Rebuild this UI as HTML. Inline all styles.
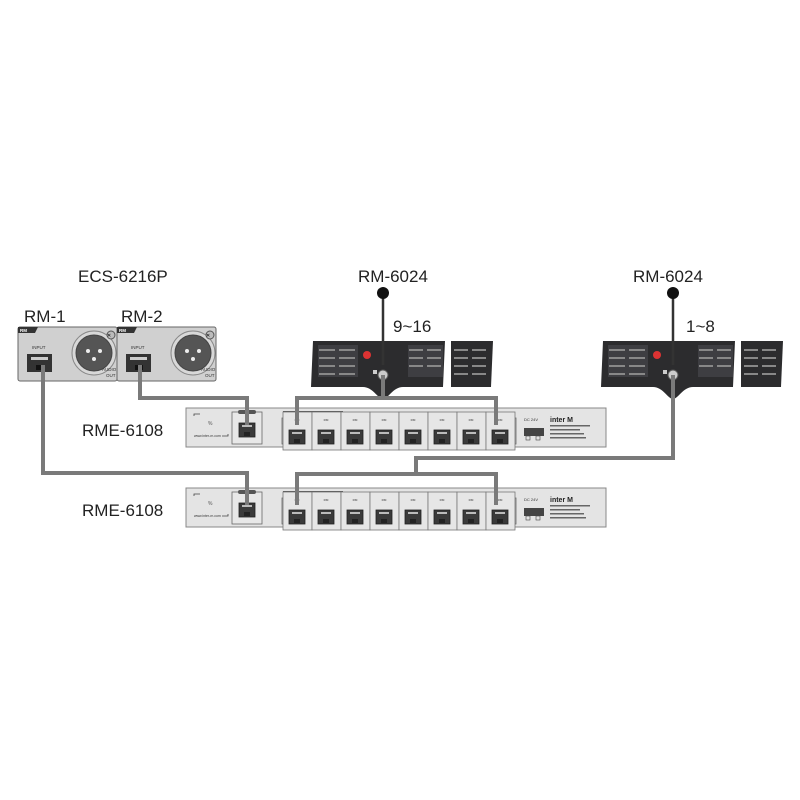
<!DOCTYPE html>
<html><head><meta charset="utf-8"><style>html,body{margin:0;padding:0;background:#fff}svg{display:block}</style></head>
<body>
<svg width="800" height="800" viewBox="0 0 800 800" xmlns="http://www.w3.org/2000/svg" font-family="Liberation Sans, sans-serif">
<defs>
<g id="jack"><rect x="-8" y="-7" width="16" height="14" fill="#3a3a3a" stroke="#222" stroke-width="0.8"/><rect x="-5" y="-5" width="10" height="2" fill="#bbb"/><rect x="-3" y="2" width="6" height="4" fill="#222"/></g>
<g id="port"><rect x="-14" y="-20" width="29" height="38" fill="#e6e6e6" stroke="#777" stroke-width="0.8"/><text x="0" y="-11" font-size="3" text-anchor="middle" fill="#333">RM</text><use href="#jack" y="5"/></g>
<g id="rme">
<rect x="0" y="0" width="420" height="39" fill="#e4e4e4" stroke="#888" stroke-width="1"/>
<path d="M8 8v-2h6M36 28h6v-2" stroke="#444" fill="none" stroke-width="0.8"/>
<text x="22" y="17" font-size="5" fill="#555">%</text>
<text x="8" y="29" font-size="3.5" fill="#333">www.inter-m.com</text>
<rect x="46" y="4" width="30" height="32" fill="#e8e8e8" stroke="#666" stroke-width="0.8"/>
<rect x="52" y="2" width="18" height="4" rx="2" fill="#555"/>
<use href="#jack" x="61" y="22"/>
<rect x="96" y="10" width="234" height="26" fill="#ececec" stroke="#666" stroke-width="0.8"/>
<rect x="97" y="3" width="60" height="3" fill="#555"/>
<rect x="204" y="5" width="16" height="4" rx="2" fill="#555"/>
<use href="#port" x="111" y="24"/><use href="#port" x="140" y="24"/><use href="#port" x="169" y="24"/><use href="#port" x="198" y="24"/><use href="#port" x="227" y="24"/><use href="#port" x="256" y="24"/><use href="#port" x="285" y="24"/><use href="#port" x="314" y="24"/>
<text x="338" y="13" font-size="4" fill="#333">DC 24V</text>
<rect x="338" y="20" width="20" height="8" fill="#444"/><rect x="340" y="28" width="4" height="4" fill="none" stroke="#444" stroke-width="0.6"/><rect x="350" y="28" width="4" height="4" fill="none" stroke="#444" stroke-width="0.6"/>
<text x="364" y="14" font-size="7" font-weight="bold" fill="#222">inter M</text>
<rect x="364" y="17" width="40" height="1.5" fill="#666"/><rect x="364" y="21" width="30" height="1.5" fill="#666"/><rect x="364" y="25" width="34" height="1.5" fill="#666"/><rect x="364" y="29" width="36" height="1.5" fill="#666"/>
</g>
<g id="rmp">
<rect x="0" y="0" width="99" height="54" fill="#d0d0d0" stroke="#666" stroke-width="1" rx="2"/>
<path d="M0 0h20l-3 6h-17z" fill="#333"/><text x="2" y="5" font-size="4.5" fill="#fff" font-weight="bold">RM</text>
<text x="14" y="22" font-size="4.5" fill="#333">INPUT</text>
<rect x="9" y="27" width="25" height="18" fill="#333"/><rect x="13" y="30" width="17" height="3" fill="#ccc"/><rect x="18" y="38" width="8" height="5" fill="#111"/>
<circle cx="76" cy="26" r="22" fill="#d8d8d8" stroke="#888"/><circle cx="76" cy="26" r="18" fill="#555" stroke="#444"/>
<circle cx="70" cy="24" r="2" fill="#eee"/><circle cx="82" cy="24" r="2" fill="#eee"/><circle cx="76" cy="32" r="2" fill="#eee"/>
<circle cx="93" cy="8" r="4" fill="#bbb" stroke="#555"/><text x="89" y="10" font-size="5">✕</text>
<text x="84" y="44" font-size="4.5" fill="#333">AUDIO</text><text x="88" y="50" font-size="4.5" fill="#333">OUT</text>
</g>
<g id="console">
<path d="M-70 -24h132l-2 46h-40c-10 0-15 12-20 12c-5 0-10-12-20-12h-52z" fill="#2c2c2e"/>
<path d="M-65 -20h40v32h-40zM25 -20h35v32h-35z" fill="#3e3e42"/>
<g fill="#888"><rect x="-64" y="-16" width="16" height="2"/><rect x="-44" y="-16" width="16" height="2"/><rect x="-64" y="-8" width="16" height="2"/><rect x="-44" y="-8" width="16" height="2"/><rect x="-64" y="0" width="16" height="2"/><rect x="-44" y="0" width="16" height="2"/><rect x="-64" y="8" width="16" height="2"/><rect x="-44" y="8" width="16" height="2"/>
<rect x="26" y="-16" width="14" height="2"/><rect x="44" y="-16" width="14" height="2"/><rect x="26" y="-8" width="14" height="2"/><rect x="44" y="-8" width="14" height="2"/><rect x="26" y="0" width="14" height="2"/><rect x="44" y="0" width="14" height="2"/></g>
<path d="M68 -24h42l-2 46h-40z" fill="#2c2c2e"/>
<g fill="#888"><rect x="71" y="-16" width="14" height="2"/><rect x="89" y="-16" width="14" height="2"/><rect x="71" y="-8" width="14" height="2"/><rect x="89" y="-8" width="14" height="2"/><rect x="71" y="0" width="14" height="2"/><rect x="89" y="0" width="14" height="2"/><rect x="71" y="8" width="14" height="2"/><rect x="89" y="8" width="14" height="2"/></g>
<circle cx="-16" cy="-10" r="4" fill="#d33"/>
<line x1="0" y1="-68" x2="0" y2="0" stroke="#333" stroke-width="2.5"/>
<circle cx="0" cy="-72" r="6" fill="#111"/>
<circle cx="0" cy="10" r="5" fill="#ccc" stroke="#555"/>
<rect x="-10" y="5" width="4" height="4" fill="#ccc"/>
</g>
</defs>
<g font-size="17" fill="#222">
<text x="78" y="282">ECS-6216P</text>
<text x="24" y="322">RM-1</text><text x="121" y="322">RM-2</text>
<text x="358" y="282">RM-6024</text><text x="633" y="282">RM-6024</text>
<text x="393" y="332">9~16</text><text x="686" y="332">1~8</text>
<text x="82" y="436">RME-6108</text><text x="82" y="516">RME-6108</text>
</g>
<use href="#rme" x="186" y="408"/>
<use href="#rme" x="186" y="488"/>
<use href="#rmp" x="18" y="327"/>
<use href="#rmp" x="117" y="327"/>
<use href="#console" x="383" y="365"/>
<use href="#console" x="673" y="365"/>
<g fill="none" stroke="#7a7a7a" stroke-width="4" stroke-linejoin="miter">
<path d="M43 365V473H247V505"/>
<path d="M140 365V398H247V425"/>
<path d="M383 375V398M297 425V398H496V425"/>
<path d="M673 375V458H416V474M297 505V474H496V505"/>
</g>
</svg>
</body></html>
